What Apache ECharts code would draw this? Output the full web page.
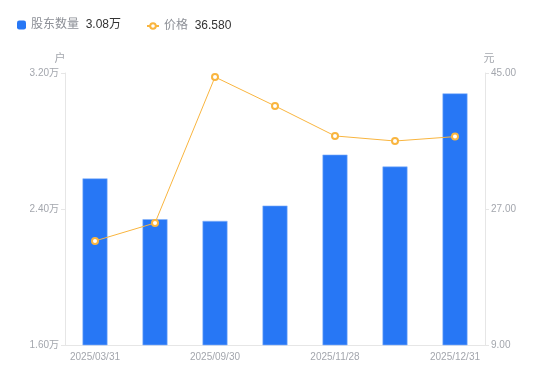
<!DOCTYPE html>
<html>
<head>
<meta charset="utf-8">
<script src="https://cdn.jsdelivr.net/npm/echarts@6/dist/echarts.min.js"></script>
<style>html,body{margin:0;padding:0;background:#fff}#c{width:550px;height:381px}</style>
</head>
<body>
<div id="c"></div>
<script>
var categories = ['2025/03/31','2025/06/30','2025/09/30','2025/10/31','2025/11/28','2025/12/10','2025/12/31'];
var holders = [2.58, 2.34, 2.33, 2.42, 2.72, 2.65, 3.08];
var prices = [22.77, 25.15, 44.47, 40.64, 36.67, 36.00, 36.58];
var leftTicks = {min: 1.6, max: 3.2, interval: 0.8};
var rightTicks = {min: 9, max: 45, interval: 18};

var chart = echarts.init(document.getElementById('c'));
var font = '"Liberation Sans", Arial, "Noto Sans CJK SC", sans-serif';
var legendText = {
  fontFamily: font,
  rich: {
    n: {color: '#8c8f96', fontSize: 12, fontFamily: font},
    v: {color: '#333333', fontSize: 12, fontFamily: font}
  }
};
function fmt(name) {
  if (name === '股东数量') return '{n|' + name + '}  {v|' + holders[holders.length-1].toFixed(2) + '万}';
  return '{n|' + name + '}  {v|' + prices[prices.length-1].toFixed(3) + '}';
}
chart.setOption({
  animation: false,
  textStyle: {fontFamily: font},
  legend: [{
    left: 12, top: 14,
    itemWidth: 9, itemHeight: 9, itemGap: 5,
    data: [{name: '股东数量', icon: 'roundRect', itemStyle: {borderWidth: 0, color: '#2777f5'}}],
    formatter: fmt, textStyle: legendText
  }, {
    left: 141, top: 15,
    itemWidth: 12, itemHeight: 7,
    data: ['价格'],
    formatter: fmt, textStyle: legendText
  }],
  grid: {left: 65, right: 65, top: 73, bottom: 36},
  xAxis: {
    type: 'category', data: categories,
    axisLine: {lineStyle: {color: '#e6e6e6'}},
    axisTick: {show: false},
    axisLabel: {color: '#a3a6ad', fontSize: 10, interval: 1, margin: 7, fontFamily: font}
  },
  yAxis: [{
    type: 'value', name: '户', min: leftTicks.min, max: leftTicks.max, interval: leftTicks.interval,
    nameTextStyle: {color: '#a3a6ad', fontSize: 11, padding: [0, 10, 0, 0]},
    nameGap: 9,
    axisLine: {show: true, lineStyle: {color: '#e6e6e6'}},
    axisTick: {show: true, length: 4, lineStyle: {color: '#e6e6e6'}},
    splitLine: {show: false},
    axisLabel: {color: '#a3a6ad', fontSize: 10, margin: 6, formatter: function (v) { return v.toFixed(2) + '万'; }}
  }, {
    type: 'value', name: '元', min: rightTicks.min, max: rightTicks.max, interval: rightTicks.interval,
    position: 'right',
    nameTextStyle: {color: '#a3a6ad', fontSize: 11, padding: [0, 0, 0, 8]},
    nameGap: 9,
    axisLine: {show: true, lineStyle: {color: '#e6e6e6'}},
    axisTick: {show: true, length: 4, lineStyle: {color: '#e6e6e6'}},
    splitLine: {show: false},
    axisLabel: {color: '#a3a6ad', fontSize: 10, margin: 6, formatter: function (v) { return v.toFixed(2); }}
  }],
  series: [{
    name: '股东数量', type: 'bar', data: holders, barWidth: 25,
    itemStyle: {color: '#2777f5', borderColor: '#8ab6fa', borderWidth: 0.6}
  }, {
    name: '价格', type: 'line', yAxisIndex: 1, data: prices,
    symbol: 'emptyCircle', symbolSize: 6,
    lineStyle: {color: '#f9b53f', width: 1},
    itemStyle: {color: '#f9b53f', borderWidth: 2}
  }]
});
</script>
</body>
</html>
